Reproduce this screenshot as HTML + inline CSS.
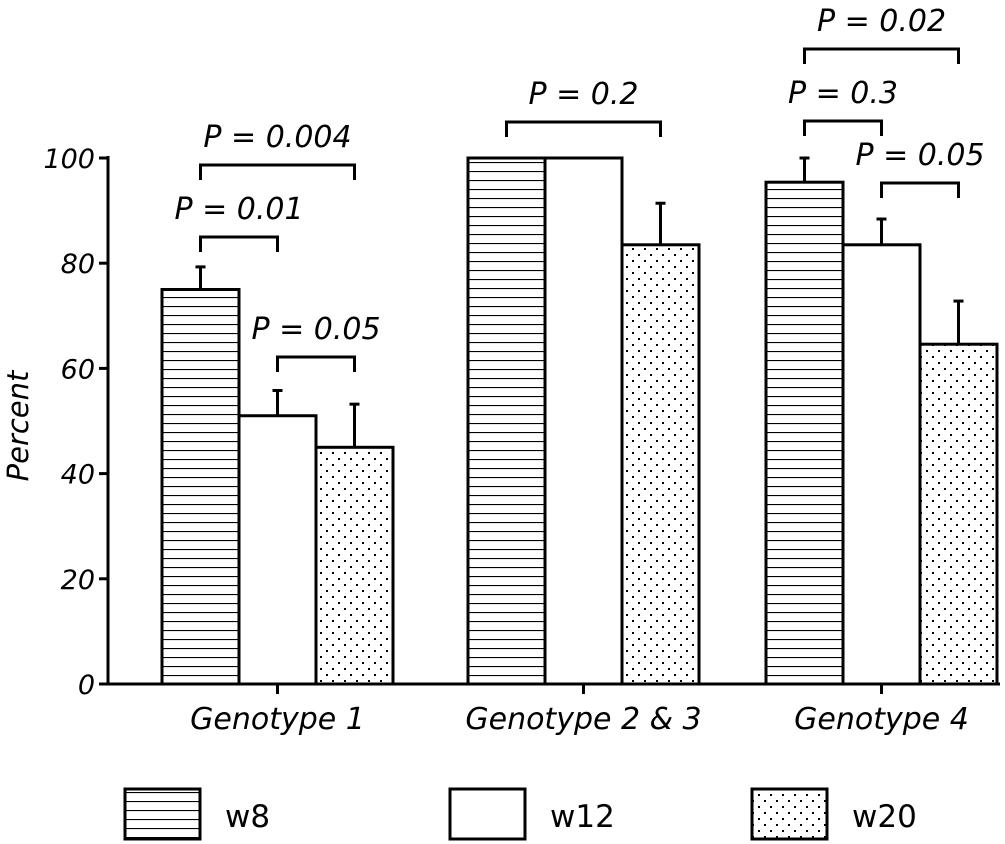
<!DOCTYPE html>
<html><head><meta charset="utf-8"><style>
body{margin:0;background:#fff}
svg{display:block}
text{font-family:"DejaVu Sans","Liberation Sans",sans-serif;fill:#000}
</style></head><body>
<svg id="chart" width="1005" height="844" viewBox="0 0 1005 844">
<defs>
<pattern id="hlines" width="10" height="9" patternUnits="userSpaceOnUse"><rect width="10" height="9" fill="#fff"/><line x1="0" y1="0.5" x2="10" y2="0.5" stroke="#000" stroke-width="1.2"/></pattern>
<pattern id="dots" width="12" height="12" patternUnits="userSpaceOnUse"><rect width="12" height="12" fill="#fff"/><rect x="2" y="2" width="2" height="2" fill="#000"/><rect x="8" y="8" width="2" height="2" fill="#000"/></pattern>
</defs>
<g id="plot"></g>
</svg>
<script>
const categories=["Genotype 1","Genotype 2 & 3","Genotype 4"];
const seriesNames=["w8","w12","w20"];
const w8=[75,100,95.4];
const w12=[51,100,83.5];
const w20=[45,83.5,64.6];
const w8err=[4.3,0,4.6];
const w12err=[4.8,0,4.9];
const w20err=[8.2,7.9,8.2];
const yTicks=[0,20,40,60,80,100];
const pLabels=[["P = 0.01","P = 0.004","P = 0.05"],["P = 0.2"],["P = 0.3","P = 0.02","P = 0.05"]];

const NS="http://www.w3.org/2000/svg";
const g=document.getElementById('plot');
const y0=684,pxPer=5.26;
const yS=v=>y0-v*pxPer;
const groupLeft=[162,468,766];
const barW=77;
const xS=(gi,si)=>groupLeft[gi]+si*barW;
function mk(tag,attrs,parent){const e=document.createElementNS(NS,tag);for(const k in attrs)e.setAttribute(k,attrs[k]);(parent||g).appendChild(e);return e;}
const fills=["url(#hlines)","#fff","url(#dots)"];
const vals=[w8,w12,w20],errs=[w8err,w12err,w20err];

let ax=mk('line',{x1:108,y1:yS(100)-2,x2:108,y2:y0,stroke:'#000','stroke-width':3});


let xa=mk('line',{x1:106,y1:y0,x2:1000,y2:y0,stroke:'#000','stroke-width':3});


yTicks.forEach(t=>{
  const l=mk('line',{x1:99,y1:yS(t),x2:108,y2:yS(t),stroke:'#000','stroke-width':3});
  
  
  const tx=mk('text',{x:95,y:yS(t)+10,'text-anchor':'end','font-size':27,'font-style':'italic'});
  tx.textContent=t;
  
  
});
const yt=mk('text',{x:0,y:0,'text-anchor':'middle','font-size':29,'font-style':'italic',transform:'translate(28,426) rotate(-90)'});
yt.textContent="Percent";



categories.forEach((c,gi)=>{
  const cx=groupLeft[gi]+barW*1.5;
  const t=mk('line',{x1:cx,y1:y0,x2:cx,y2:y0+10,stroke:'#000','stroke-width':3});
  
  
  const tx=mk('text',{x:cx,y:729,'text-anchor':'middle','font-size':30,'font-style':'italic'});
  tx.textContent=c;
  
  
  for(let si=0;si<3;si++){
    const v=vals[si][gi],e=errs[si][gi],x=xS(gi,si);
    if(e>0){
      const bx=x+barW/2;
      const el=mk('line',{x1:bx,y1:yS(v),x2:bx,y2:yS(v+e),stroke:'#000','stroke-width':3});
      
      
      const cap=mk('line',{x1:bx-5,y1:yS(v+e),x2:bx+5,y2:yS(v+e),stroke:'#000','stroke-width':3});
      
      
    }
    const r=mk('rect',{x:x,y:yS(v),width:barW,height:y0-yS(v),fill:fills[si],stroke:'#000','stroke-width':3});
    
    
  }
});

const brackets=[[0,0,1,237,0],[0,0,2,165,1],[0,1,2,357,2],[1,0,2,122,0],[2,0,1,121,0],[2,0,2,49,1],[2,1,2,183,2]];
brackets.forEach(b=>{
  const xa_=xS(b[0],b[1])+barW/2,xb=xS(b[0],b[2])+barW/2,y=b[3];
  const p=mk('path',{d:`M${xa_},${y+15}V${y}H${xb}V${y+15}`,fill:'none',stroke:'#000','stroke-width':3});
  
  
  const tx=mk('text',{x:(xa_+xb)/2,y:y-18,'text-anchor':'middle','font-size':30,'font-style':'italic'});
  tx.textContent=pLabels[b[0]][b[4]];
  
  
});

const legX=[125,450,752];
seriesNames.forEach((n,i)=>{
  const r=mk('rect',{x:legX[i],y:789,width:75,height:50,fill:fills[i],stroke:'#000','stroke-width':3});
  
  
  const t=mk('text',{x:legX[i]+100,y:827,'font-size':31});
  t.textContent=n;
  
  
});
</script>
</body></html>
